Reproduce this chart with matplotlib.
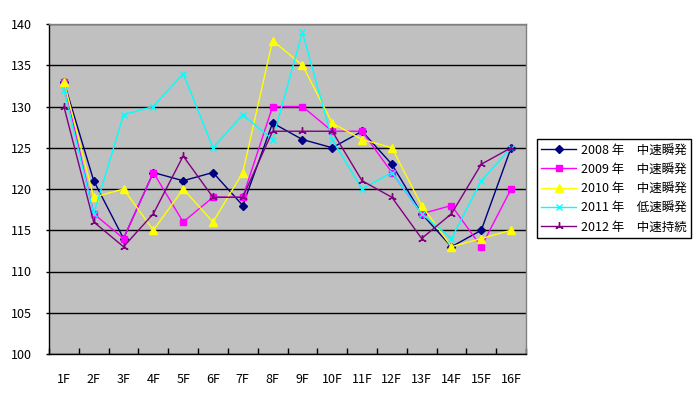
import matplotlib
matplotlib.use("Agg")
import matplotlib.pyplot as plt
import numpy as np

plt.rcParams['font.family'] = ['Noto Sans CJK JP', 'DejaVu Sans']

floors = ['1F', '2F', '3F', '4F', '5F', '6F', '7F', '8F',
          '9F', '10F', '11F', '12F', '13F', '14F', '15F', '16F']

y2008 = [133, 121, 114, 122, 121, 122, 118, 128, 126, 125, 127, 123, 117, 113, 115, 125]
y2009 = [133, 117, 114, 122, 116, 119, 119, 130, 130, 127, 127, 122, 117, 118, 113, 120]
y2010 = [133, 119, 120, 115, 120, 116, 122, 138, 135, 128, 126, 125, 118, 113, 114, 115]
y2011 = [132, 117, 129, 130, 134, 125, 129, 126, 139, 126, 120, 122, 117, 114, 121, 125]
y2012 = [130, 116, 113, 117, 124, 119, 119, 127, 127, 127, 121, 119, 114, 117, 123, 125]

labels = ['2008 年　中速瞬発', '2009 年　中速瞬発', '2010 年　中速瞬発',
          '2011 年　低速瞬発', '2012 年　中速持続']

series = [
    (y2008, '#000080', 'D', 4.5),
    (y2009, '#FF00FF', 's', 5),
    (y2010, '#FFFF00', '^', 6),
    (y2011, '#00FFFF', 'x', 4.5),
    (y2012, '#800080', (3, 2, 0), 6),
]

fig = plt.figure(figsize=(6.98, 3.95), dpi=100)
ax = fig.add_axes([49/698, 1-354/395, (526-49)/698, (354-24)/395])
ax.set_facecolor('#C0C0C0')

x = np.arange(len(floors))
for (vals, col, mk, ms), lab in zip(series, labels):
    ax.plot(x, vals, color=col, marker=mk, markersize=ms, linewidth=1,
            markeredgewidth=1, label=lab)

ax.set_xlim(-0.5, len(floors) - 0.5)
ax.set_ylim(100, 140)
ax.set_yticks(range(100, 141, 5))
ax.yaxis.grid(True, color='black', linewidth=1)
ax.set_axisbelow(True)

ax.set_xticks(x)
ax.set_xticklabels(floors)
ax.set_xticks(np.arange(-0.5, len(floors), 1), minor=True)
ax.tick_params(axis='x', which='major', length=0, pad=14, labelsize=9)
ax.tick_params(axis='x', which='minor', direction='in', length=4, width=1)
ax.tick_params(axis='y', direction='out', length=2, width=1, pad=10, labelsize=9)

for s in ['top', 'right']:
    ax.spines[s].set_color('#808080')
    ax.spines[s].set_linewidth(1)
for s in ['left', 'bottom']:
    ax.spines[s].set_color('black')
    ax.spines[s].set_linewidth(1)

leg = fig.legend(loc='upper left', bbox_to_anchor=(537/698, 1-139/395),
                 fontsize=9, frameon=True, fancybox=False, edgecolor='black',
                 framealpha=1, handlelength=2.8, labelspacing=0.5,
                 borderpad=0.35, handletextpad=0.35, borderaxespad=0)
leg.get_frame().set_linewidth(1)

fig.savefig('out.png', dpi=100)
